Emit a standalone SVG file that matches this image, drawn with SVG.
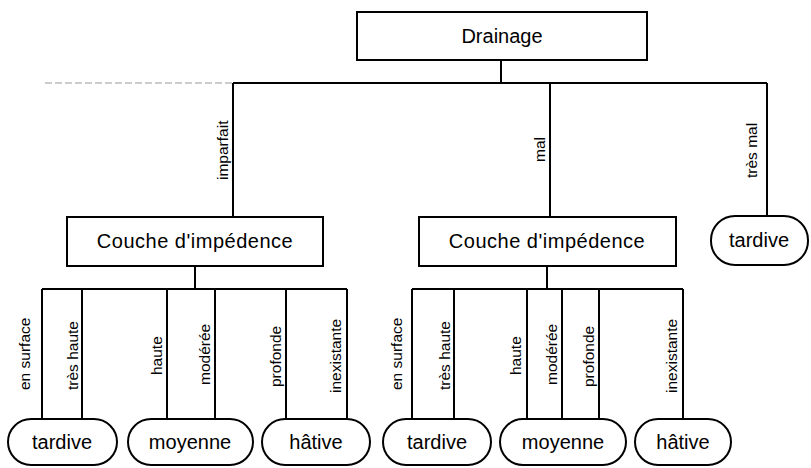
<svg xmlns="http://www.w3.org/2000/svg" width="811" height="468" viewBox="0 0 811 468">
  <defs>
    <style>
      .box { fill: #fff; stroke: #000; stroke-width: 2; }
      .wire { fill: none; stroke: #000; stroke-width: 2; }
      .guide { fill: none; stroke: #999; stroke-width: 1.2; stroke-dasharray: 7 3; }
      .node-text { font-family: "Liberation Sans", Arial, sans-serif; font-size: 20px; fill: #000; text-anchor: middle; }
      .wide { letter-spacing: 0.5px; }
      .edge-text { font-family: "Liberation Sans", Arial, sans-serif; font-size: 15.5px; fill: #000; text-anchor: start; }
    </style>
  </defs>
  <rect width="811" height="468" fill="#fff"/>

  <!-- connectors -->
  <g id="connectors">
    <line class="guide" x1="45" y1="83" x2="233" y2="83"/>
    <path class="wire" d="M501 60 V83 M233 83 H767 M233 83 V217 M550 83 V217 M767 83 V216"/>
    <!-- first impedance layer split -->
    <path class="wire" d="M195 266 V289 M42 289 H347 M42 289 V419 M82 289 V419 M167 289 V419 M215 289 V419 M286 289 V419 M347 289 V419"/>
    <!-- second impedance layer split -->
    <path class="wire" d="M547 266 V289 M412 289 H683 M412 289 V419 M454 289 V419 M527 289 V419 M562 289 V419 M599 289 V419 M683 289 V419"/>
    <!-- edge labels -->
    <g class="edge-text">
      <text transform="translate(228 180) rotate(-90)">imparfait</text>
      <text transform="translate(545 162) rotate(-90)">mal</text>
      <text transform="translate(757 178) rotate(-90)">très mal</text>

      <text transform="translate(30 390) rotate(-90)">en surface</text>
      <text transform="translate(78 390) rotate(-90)">très haute</text>
      <text transform="translate(162 375) rotate(-90)">haute</text>
      <text transform="translate(210 385) rotate(-90)">modérée</text>
      <text transform="translate(281 387) rotate(-90)">profonde</text>
      <text transform="translate(341 393) rotate(-90)">inexistante</text>

      <text transform="translate(402 390) rotate(-90)">en surface</text>
      <text transform="translate(450 390) rotate(-90)">très haute</text>
      <text transform="translate(521 375) rotate(-90)">haute</text>
      <text transform="translate(557 385) rotate(-90)">modérée</text>
      <text transform="translate(594 387) rotate(-90)">profonde</text>
      <text transform="translate(677 393) rotate(-90)">inexistante</text>
    </g>
  </g>

  <g id="drainage">
    <rect class="box" x="357" y="12" width="290" height="48"/>
    <text class="node-text" x="502" y="43">Drainage</text>
  </g>

  <g id="couche-1">
    <rect class="box" x="67" y="217" width="256" height="49"/>
    <text class="node-text wide" x="195" y="248">Couche d'impédence</text>
  </g>

  <g id="couche-2">
    <rect class="box" x="419" y="217" width="257" height="49"/>
    <text class="node-text wide" x="547" y="248">Couche d'impédence</text>
  </g>

  <g id="tardive-0">
    <rect class="box" x="711" y="216" width="97" height="49" rx="24" ry="24"/>
    <text class="node-text" x="759" y="247">tardive</text>
  </g>

  <g id="tardive-1">
    <rect class="box" x="8" y="419" width="109" height="46" rx="23" ry="23"/>
    <text class="node-text" x="62" y="449">tardive</text>
  </g>

  <g id="moyenne-1">
    <rect class="box" x="128" y="419" width="125" height="46" rx="23" ry="23"/>
    <text class="node-text" x="190" y="449">moyenne</text>
  </g>

  <g id="hative-1">
    <rect class="box" x="262" y="419" width="108" height="46" rx="23" ry="23"/>
    <text class="node-text" x="316" y="449">hâtive</text>
  </g>

  <g id="tardive-2">
    <rect class="box" x="383" y="419" width="108" height="46" rx="23" ry="23"/>
    <text class="node-text" x="437" y="449">tardive</text>
  </g>

  <g id="moyenne-2">
    <rect class="box" x="500" y="419" width="126" height="46" rx="23" ry="23"/>
    <text class="node-text" x="563" y="449">moyenne</text>
  </g>

  <g id="hative-2">
    <rect class="box" x="635" y="419" width="96" height="46" rx="23" ry="23"/>
    <text class="node-text" x="683" y="449">hâtive</text>
  </g>
</svg>
